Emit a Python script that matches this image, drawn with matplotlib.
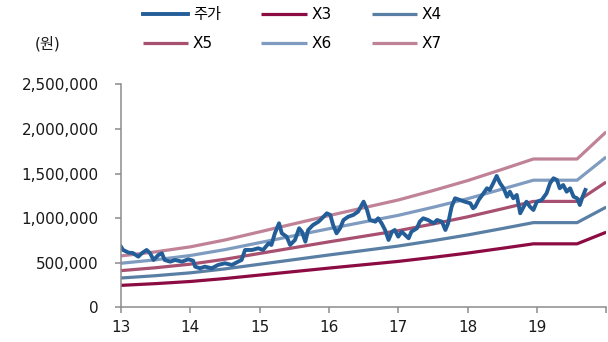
import numpy as np
import matplotlib.pyplot as plt
from matplotlib.ticker import FuncFormatter

plt.rcParams['font.family'] = ['DejaVu Sans', 'Noto Sans CJK KR']

# stock price (won), x = year (13 = 2013)
price_year = [13.00, 13.03, 13.11, 13.17, 13.25, 13.30, 13.37, 13.42, 13.47, 13.54,
              13.59, 13.63, 13.71, 13.78, 13.88, 13.97, 14.04, 14.07, 14.14, 14.21,
              14.31, 14.40, 14.50, 14.60, 14.69, 14.74, 14.79, 14.89, 14.98, 15.05,
              15.13, 15.17, 15.22, 15.28, 15.32, 15.39, 15.44, 15.51, 15.57, 15.61,
              15.66, 15.70, 15.77, 15.85, 15.90, 15.97, 16.02, 16.06, 16.11, 16.16,
              16.21, 16.28, 16.35, 16.42, 16.50, 16.55, 16.59, 16.67, 16.71, 16.76,
              16.81, 16.86, 16.91, 16.95, 17.00, 17.05, 17.10, 17.15, 17.19, 17.27,
              17.31, 17.36, 17.43, 17.51, 17.56, 17.63, 17.68, 17.72, 17.77, 17.82,
              17.89, 17.96, 18.04, 18.08, 18.11, 18.16, 18.23, 18.28, 18.32, 18.37,
              18.42, 18.47, 18.52, 18.57, 18.61, 18.66, 18.71, 18.76, 18.81, 18.85,
              18.90, 18.95, 19.00, 19.07, 19.14, 19.19, 19.24, 19.29, 19.33, 19.38,
              19.43, 19.48, 19.53, 19.58, 19.62, 19.66, 19.70]
price = [681, 644, 614, 610, 569, 607, 644, 607, 532, 588,
         607, 532, 513, 532, 513, 540, 524, 457, 439, 457,
         439, 476, 495, 476, 513, 532, 644, 644, 663, 644,
         719, 700, 831, 943, 831, 793, 700, 756, 887, 849,
         737, 868, 924, 961, 999, 1055, 1036, 924, 831, 887,
         980, 1017, 1036, 1073, 1185, 1092, 980, 961, 999, 943,
         868, 756, 849, 868, 793, 849, 812, 775, 849, 887,
         961, 999, 980, 943, 980, 961, 868, 943, 1129, 1223,
         1204, 1185, 1167, 1111, 1129, 1204, 1279, 1335, 1316, 1391,
         1473, 1391, 1335, 1241, 1297, 1223, 1260, 1055, 1129, 1185,
         1129, 1092, 1185, 1204, 1279, 1391, 1447, 1428, 1335, 1372,
         1297, 1335, 1241, 1223, 1148, 1241, 1316]
price = np.array(price) * 1000

# BPS (won) used for the PBR bands
bps_year = [13.0, 13.5, 14.0, 14.5, 15.0, 15.5, 16.0, 16.5, 17.0, 17.5, 18.0, 18.5, 18.95, 19.58, 20.0]
bps = [82500, 89000, 97000, 108000, 121000, 134000, 147000, 159500, 172000, 187000,
       203000, 221000, 237600, 237600, 281000]
bps = np.array(bps)

multiples = [3, 4, 5, 6, 7]
band_colors = ['#8C0B42', '#5A7FA5', '#A85070', '#7F9CC0', '#C08296']

fig = plt.figure(figsize=(6.08, 3.42), dpi=100)
ax = fig.add_axes([0.199, 0.101, 0.798, 0.6525])

lines = {}
for m, c in zip(multiples, band_colors):
    lines['X%d' % m], = ax.plot(bps_year, bps * m, color=c, lw=2.3, solid_capstyle='butt')
lines['주가'], = ax.plot(price_year, price, color='#245E98', lw=2.8, solid_joinstyle='round')

ax.set_xlim(13, 20)
ax.set_ylim(0, 2500000)
ax.set_xticks(range(13, 21))
ax.set_xticklabels([str(y) for y in range(13, 20)] + [''])
ax.set_yticks(np.arange(0, 2500001, 500000))
ax.yaxis.set_major_formatter(FuncFormatter(lambda v, p: f'{int(v):,}'))

for s in ['top', 'right']:
    ax.spines[s].set_visible(False)
for s in ['left', 'bottom']:
    ax.spines[s].set_color('#8C8C8C')
    ax.spines[s].set_linewidth(1.1)
ax.tick_params(axis='both', colors='#8C8C8C', length=4, width=1.1, labelsize=11, labelcolor='#1A1A1A')
ax.tick_params(axis='y', pad=12)
ax.tick_params(axis='x', pad=5)

order = ['주가', 'X5', 'X3', 'X6', 'X4', 'X7']
fig.legend([lines[k] for k in order], order, loc='upper center', bbox_to_anchor=(0.481, 1.02),
           ncol=3, frameon=False, fontsize=11, handlelength=2.95, handletextpad=0.3,
           columnspacing=2.65, labelspacing=0.95)

fig.text(48 / 608, 1 - 44 / 342, '(원)', ha='center', va='center', fontsize=11, color='#1A1A1A')

plt.savefig('out.png', dpi=100)
